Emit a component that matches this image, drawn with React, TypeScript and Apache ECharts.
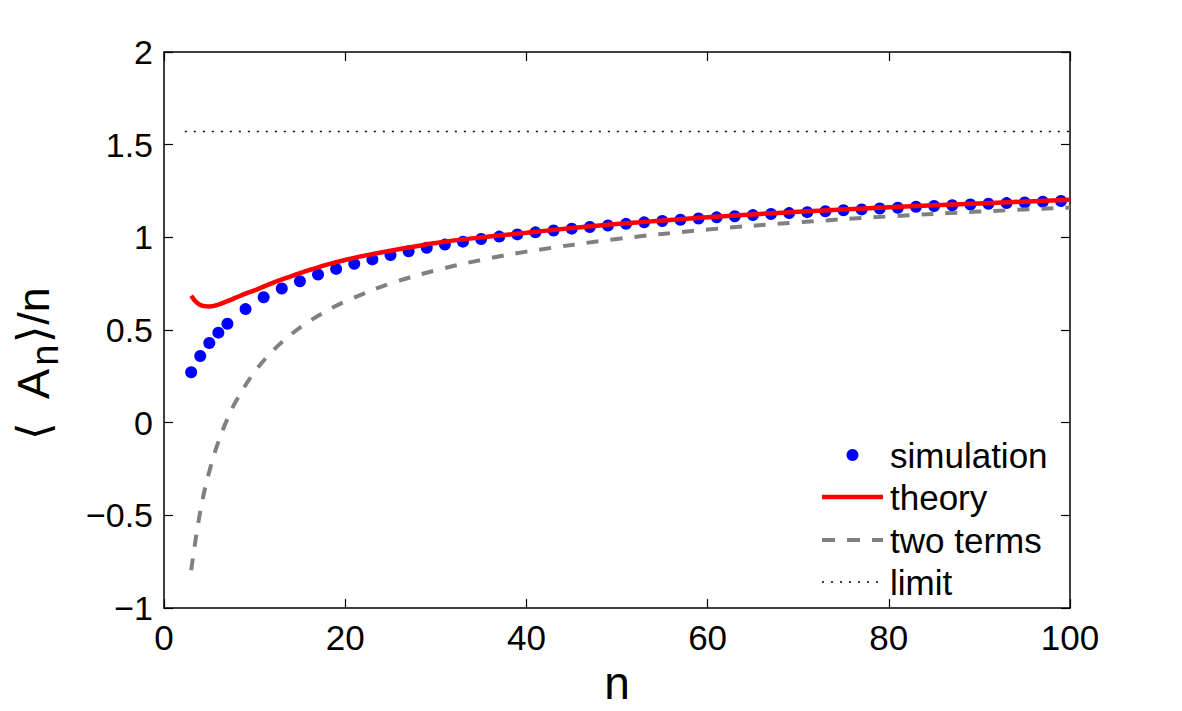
import React, { useEffect, useRef } from "react";
import * as echarts from "echarts";

const simN = [3, 4, 5, 6, 7, 9, 11, 13, 15, 17, 19, 21, 23, 25, 27, 29, 31, 33, 35, 37, 39, 41, 43, 45, 47, 49, 51, 53, 55, 57, 59, 61, 63, 65, 67, 69, 71, 73, 75, 77, 79, 81, 83, 85, 87, 89, 91, 93, 95, 97, 99];
const simV = [0.272, 0.36, 0.43, 0.486, 0.534, 0.613, 0.677, 0.724, 0.763, 0.80, 0.83, 0.857, 0.881, 0.905, 0.925, 0.944, 0.961, 0.977, 0.991, 1.004, 1.016, 1.027, 1.037, 1.047, 1.056, 1.064, 1.073, 1.081, 1.088, 1.095, 1.102, 1.108, 1.114, 1.120, 1.126, 1.131, 1.136, 1.141, 1.146, 1.151, 1.156, 1.160, 1.165, 1.169, 1.173, 1.177, 1.181, 1.185, 1.188, 1.192, 1.196];

const theoryN = [3, 4, 5, 6, 7, 8, 9, 10, 12, 14, 16, 18, 20, 22, 25, 30, 35, 40, 45, 50, 60, 70, 80, 90, 100];
const theoryV = [0.685, 0.635, 0.627, 0.637, 0.656, 0.676, 0.696, 0.714, 0.755, 0.79, 0.823, 0.853, 0.878, 0.90, 0.928, 0.97, 1.0, 1.025, 1.05, 1.072, 1.109, 1.138, 1.162, 1.183, 1.203];

const twoN = [3, 4, 5, 6, 7, 8, 10, 12, 14, 16, 18, 20, 25, 30, 35, 40, 50, 60, 70, 80, 90, 100];
const twoV = [-0.796, -0.479, -0.263, -0.103, 0.021, 0.121, 0.274, 0.387, 0.475, 0.546, 0.605, 0.654, 0.751, 0.822, 0.878, 0.923, 0.991, 1.042, 1.081, 1.113, 1.139, 1.161];

const limitN = [2.3, 100];
const limitV = [1.5708, 1.5708];

const legendNames = ["simulation", "theory", "two terms", "limit"];

const xTicks = { min: 0, max: 100, interval: 20 };
const yTicks = { min: -1, max: 2, interval: 0.5 };

const FONT = "'Liberation Sans', Arial, Helvetica, sans-serif";

function zip(a: number[], b: number[]) {
  return a.map((v, i) => [v, b[i]]);
}

export default function App() {
  const ref = useRef<HTMLDivElement>(null);
  useEffect(() => {
    if (!ref.current) return;
    const chart = echarts.init(ref.current, undefined, { renderer: "svg" });
    const axisLine = { show: true, onZero: false, lineStyle: { color: "#000", width: 1.5 } };
    const tick = { show: true, inside: true, length: 9, lineStyle: { color: "#000", width: 1.2 } };
    const fmt = (v: number) => String(v).replace("-", "\u2212");

    const lx0 = 822, lx1 = 883, tx = 890;
    const rows = [455, 497, 540, 582];
    const legendGraphics: any[] = [
      { type: "circle", shape: { cx: (lx0 + lx1) / 2, cy: rows[0], r: 6 }, style: { fill: "#0000ff" } },
      { type: "line", shape: { x1: lx0, y1: rows[1], x2: lx1, y2: rows[1] }, style: { stroke: "#ff0000", lineWidth: 4.5 } },
      { type: "line", shape: { x1: lx0, y1: rows[2], x2: lx1, y2: rows[2] }, style: { stroke: "#808080", lineWidth: 4, lineDash: [13, 12] } },
      { type: "line", shape: { x1: lx0, y1: rows[3], x2: lx1, y2: rows[3] }, style: { stroke: "#000", lineWidth: 1.5, lineDash: [2, 7] } },
      ...legendNames.map((t, i) => ({
        type: "text",
        x: tx,
        y: rows[i],
        style: { text: t, fontSize: 35, fontFamily: FONT, fill: "#000", verticalAlign: "middle", align: "left" },
      })),
      {
        type: "text",
        x: 33,
        y: 364,
        rotation: Math.PI / 2,
        style: {
          text: "{a|\u27E8  A}{s|n}{a|\u27E9/n}",
          align: "center",
          verticalAlign: "middle",
          fill: "#000",
          fontFamily: FONT,
          rich: {
            a: { fontSize: 45, fill: "#000", fontFamily: FONT },
            s: { fontSize: 38, fill: "#000", fontFamily: FONT, padding: [24, 2, 0, 2] },
          },
        },
      },
    ];

    chart.setOption({
      animation: false,
      backgroundColor: "#fff",
      textStyle: { fontFamily: FONT },
      grid: { left: 164, right: 112, top: 52, bottom: 93, containLabel: false },
      xAxis: [
        {
          type: "value",
          ...xTicks,
          position: "bottom",
          axisLine,
          axisTick: tick,
          splitLine: { show: false },
          axisLabel: { fontSize: 35, color: "#000", margin: 12, fontFamily: FONT, formatter: fmt },
          name: "n",
          nameLocation: "middle",
          nameGap: 42,
          nameTextStyle: { fontSize: 46, color: "#000", fontFamily: FONT },
        },
        {
          type: "value",
          ...xTicks,
          position: "top",
          axisLine,
          axisTick: tick,
          splitLine: { show: false },
          axisLabel: { show: false },
        },
      ],
      yAxis: [
        {
          type: "value",
          ...yTicks,
          position: "left",
          axisLine,
          axisTick: tick,
          splitLine: { show: false },
          axisLabel: { fontSize: 34, color: "#000", margin: 11, fontFamily: FONT, formatter: fmt },
        },
        {
          type: "value",
          ...yTicks,
          position: "right",
          axisLine,
          axisTick: tick,
          splitLine: { show: false },
          axisLabel: { show: false },
        },
      ],
      graphic: legendGraphics,
      series: [
        {
          name: "simulation",
          type: "scatter",
          data: zip(simN, simV),
          symbol: "circle",
          symbolSize: 12,
          itemStyle: { color: "#0000ff", opacity: 1 },
          z: 2,
        },
        {
          name: "theory",
          type: "line",
          data: zip(theoryN, theoryV),
          smooth: 0.4,
          symbol: "none",
          lineStyle: { color: "#ff0000", width: 4.5 },
          itemStyle: { color: "#ff0000" },
          z: 3,
        },
        {
          name: "two terms",
          type: "line",
          data: zip(twoN, twoV),
          smooth: 0.4,
          symbol: "none",
          lineStyle: { color: "#808080", width: 4, type: [12, 12] },
          itemStyle: { color: "#808080" },
          z: 3,
        },
        {
          name: "limit",
          type: "line",
          data: zip(limitN, limitV),
          symbol: "none",
          lineStyle: { color: "#000", width: 1.5, type: [2, 7] },
          itemStyle: { color: "#000" },
          z: 3,
        },
      ],
    });
    return () => chart.dispose();
  }, []);
  return <div ref={ref} style={{ position: "fixed", left: 0, top: 0, width: 1182, height: 711 }} />;
}
